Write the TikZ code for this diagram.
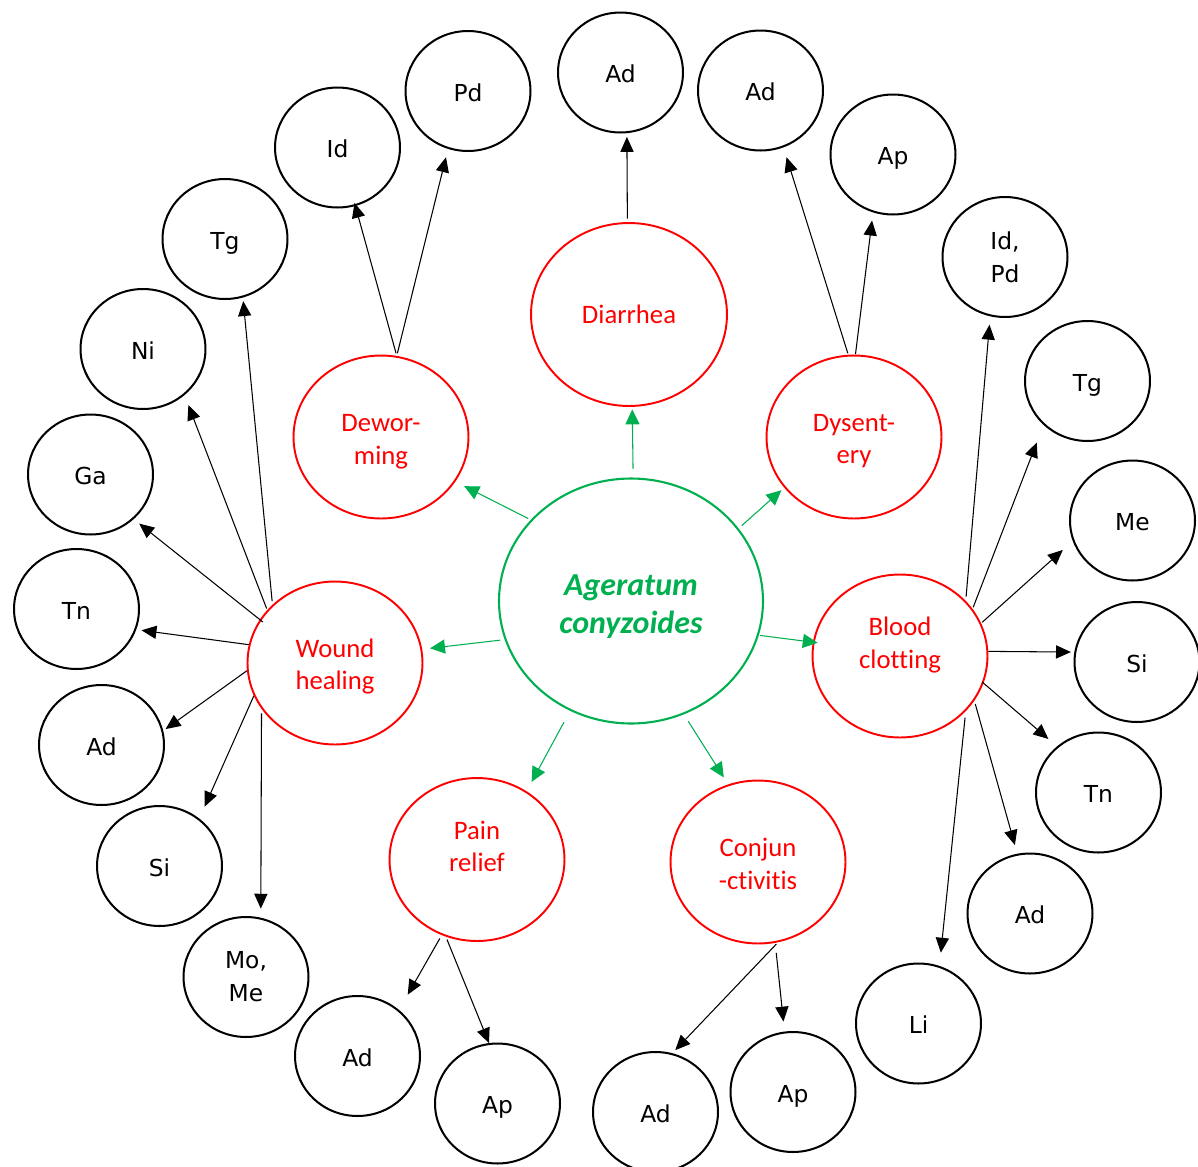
\documentclass[tikz,border=0pt]{standalone}
\usepackage{fontspec}
\setmainfont{DejaVu Sans}
\newfontfamily\calibrifont[Ligatures=NoCommon]{Carlito}
\usetikzlibrary{shapes.geometric,arrows.meta}
\definecolor{mred}{RGB}{255,0,0}
\definecolor{mgreen}{RGB}{0,176,80}
\begin{document}
\begin{tikzpicture}[x=0.02cm,y=-0.02cm,
  blkbase/.style={ellipse,draw=black,line width=1.15pt,minimum width=2.5cm,minimum height=2.4cm,inner sep=0pt,
     align=center,font=\fontsize{13.3}{18.7}\selectfont},
  blk/.style={blkbase,text height=11.7pt,text depth=0pt},
  blktwo/.style={blkbase},
  redc/.style={ellipse,draw=mred,line width=1.1pt,minimum width=3.5cm,minimum height=3.26cm,inner sep=0pt,
     align=center,text=mred,font=\calibrifont\fontsize{15.2}{18.5}\selectfont},
  redt/.style={align=center,text=mred,inner sep=0pt,font=\calibrifont\fontsize{15.2}{18.5}\selectfont},
  grc/.style={ellipse,draw=mgreen,line width=1.2pt,minimum width=5.28cm,minimum height=4.9cm,inner sep=0pt},
  grt/.style={align=center,text=mgreen,inner sep=0pt,font=\calibrifont\bfseries\itshape\fontsize{18.2}{21.7}\selectfont},
  arr/.style={draw=black,line width=0.6pt,-{Triangle[length=8.5pt,width=7.5pt]}},
  garr/.style={draw=mgreen,line width=0.6pt,-{Triangle[length=8.5pt,width=8pt]}},
  pxgap/.style 2 args={shorten <=#1*0.02cm, shorten >=#2*0.02cm}]
\useasboundingbox (0,0) rectangle (1198,1167);

% centre
\node[grc] (ac) at (631,601) {};
\node[grt] (act) at (631,606.5) {Ageratum\\conyzoides};

% uses
\node[redc,minimum width=3.92cm,minimum height=3.66cm] (dia) at (629,314.5) {Diarrhea};
\node[redc] (dew) at (381,437) {};
\node[redt] (dewt) at (381,441.5) {Dewor-\\ming};
\node[redc] (dys) at (854,437) {};
\node[redt] (dyst) at (854,441) {Dysent-\\ery};
\node[redc] (wh) at (335,663) {};
\node[redt] (wht) at (335,666.5) {Wound\\healing};
\node[redc] (bc) at (900,656) {};
\node[redt] (bct) at (900,645) {Blood\\clotting};
\node[redc] (pr) at (477,859.5) {};
\node[redt] (prt) at (477,846.5) {Pain\\relief};
\node[redc] (cj) at (758,862) {};
\node[redt] (cjt) at (758,864) {Conjun\\-ctivitis};

% outer ring
\node[blk] (adT) at (620.5,72.5) {Ad};
\node[blk] (adTR) at (760.5,90.5) {Ad};
\node[blk] (apTR) at (893,154.5) {Ap};
\node[blktwo] (idpd) at (1005,257) {Id,\\Pd};
\node[blk] (tgR) at (1087.5,381) {Tg};
\node[blk] (meR) at (1132.5,520.5) {Me};
\node[blk] (siR) at (1137,662) {Si};
\node[blk] (tnR) at (1098.5,792.5) {Tn};
\node[blk] (adR) at (1030,913.5) {Ad};
\node[blk] (li) at (918.5,1023.5) {Li};
\node[blk] (apBR) at (793,1092) {Ap};
\node[blk] (adBR) at (655.5,1112) {Ad};
\node[blk] (apBL) at (497.5,1103.5) {Ap};
\node[blk] (adBL) at (357.5,1056) {Ad};
\node[blktwo] (mome) at (246,977) {Mo,\\Me};
\node[blk] (siL) at (159.5,866) {Si};
\node[blk] (adL) at (101.5,745) {Ad};
\node[blk] (tnL) at (76.5,609) {Tn};
\node[blk] (ga) at (90.5,474.5) {Ga};
\node[blk] (ni) at (143,349) {Ni};
\node[blk] (tgL) at (225,239) {Tg};
\node[blk] (id) at (337.5,147.5) {Id};
\node[blk] (pd) at (468,91) {Pd};

% green connectors
\draw[garr,pxgap={8.5}{2.5}] (ac.89.6) -- (dia.-88.2);
\draw[garr,pxgap={4.2}{3.8}] (ac.34) -- (dys.216.9);
\draw[garr,pxgap={2.8}{9.9}] (ac.141.5) -- (dew.-31.9);
\draw[garr,pxgap={4.3}{7.9}] (ac.197.5) -- (wh.9);
\draw[garr,pxgap={1.4}{-5}] (ac.-15.2) -- (bc.171);
\draw[garr,pxgap={12.8}{10.6}] (ac.241) -- (pr.54.6);
\draw[garr,pxgap={8.3}{8.2}] (ac.-65.2) -- (cj.111.8);

% black connectors
\draw[arr,pxgap={2.7}{-3.3}] (dew.79.9) -- (id.-73.4);
\draw[arr,pxgap={2.7}{8.6}] (dew.79.9) -- (pd.-109.2);
\draw[arr,pxgap={3.5}{3.7}] (dia.91.2) -- (adT.-84.2);
\draw[arr,pxgap={1.6}{10.3}] (dys.94.1) -- (adTR.-68.3);
\draw[arr,pxgap={0.5}{8.2}] (dys.89.3) -- (apTR.-109.3);
\draw[arr,pxgap={4.2}{8.4}] (bc.40.9) -- (idpd.-104.1);
\draw[arr,pxgap={1.7}{18.8}] (bc.33) -- (tgR.-135.2);
\draw[arr,pxgap={1.3}{13.3}] (bc.22.5) -- (meR.-161.3);
\draw[arr,pxgap={0}{3.4}] (bc.3.9) -- (siR.171.4);
\draw[arr,pxgap={-1.6}{11.3}] (bc.-18.2) -- (tnR.132.2);
\draw[arr,pxgap={3.5}{9}] (bc.-31.4) -- (adR.102.4);
\draw[arr,pxgap={6.4}{13.3}] (bc.-40.6) -- (li.70.8);
\draw[arr,pxgap={3.6}{3.6}] (wh.137.7) -- (tgL.-73);
\draw[arr,pxgap={1.6}{10.7}] (wh.142) -- (ni.-48.9);
\draw[arr,pxgap={-4}{7}] (wh.150.3) -- (ga.-46.8);
\draw[arr,pxgap={0}{5.3}] (wh.168.2) -- (tnL.-19.6);
\draw[arr,pxgap={0}{2.9}] (wh.185.8) -- (adL.13.1);
\draw[arr,pxgap={0}{13}] (wh.202.2) -- (siL.50.7);
\draw[arr,pxgap={4.4}{9}] (wh.212.5) -- (mome.76);
\draw[arr,pxgap={3.9}{17.5}] (pr.245.6) -- (adBL.48.8);
\draw[arr,pxgap={3.1}{0}] (pr.248.9) -- (apBL.98.9);
\draw[arr,pxgap={2.3}{4.2}] (cj.-76.5) -- (adBR.74.5);
\draw[arr,pxgap={10}{10}] (cj.-78.2) -- (apBR.98.9);
\end{tikzpicture}
\end{document}
